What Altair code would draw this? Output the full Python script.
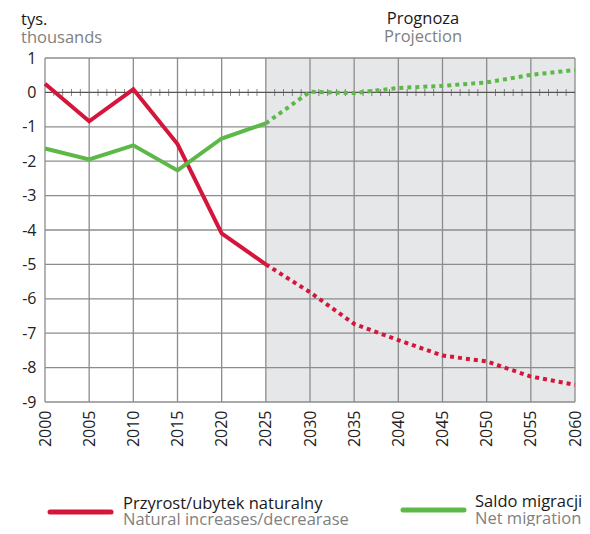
import altair as alt
import pandas as pd

years_hist = [2000, 2005, 2010, 2015, 2020, 2025]
years_proj = [2025, 2030, 2035, 2040, 2045, 2050, 2055, 2060]
natural_hist = [0.25, -0.84, 0.09, -1.5, -4.1, -5.0]
natural_proj = [-5.0, -5.81, -6.73, -7.2, -7.65, -7.82, -8.26, -8.5]
migration_hist = [-1.63, -1.95, -1.54, -2.27, -1.34, -0.9]
migration_proj = [-0.9, 0.02, -0.02, 0.13, 0.19, 0.29, 0.51, 0.65]

x_ticks = list(range(2000, 2061, 5))
y_ticks = list(range(-9, 2))
minor_years = [y for y in range(2001, 2060) if y % 5 != 0]

RED = "#d4163c"
GREEN = "#5cb947"
GRID = "#8c8c8c"
ZERO = "#555555"
FONT = "Open Sans"
FS = 16.5

xs = alt.Scale(domain=[2000, 2060], nice=False, zero=False)
ys = alt.Scale(domain=[-9, 1], nice=False)

xaxis = alt.Axis(values=x_ticks, labelExpr="'' + datum.value", labelAngle=270,
                 labelOverlap=False, grid=False, ticks=False, domain=False,
                 labelFontSize=16, labelColor="#222", labelFont=FONT,
                 labelPadding=8, title=None)
yaxis = alt.Axis(values=y_ticks, labelExpr="'' + datum.value", labelOverlap=False,
                 grid=False, ticks=False, domain=False, labelFontSize=16,
                 labelColor="#222", labelFont=FONT, labelPadding=9, title=None)

X = lambda f: alt.X(f, scale=xs, axis=xaxis)
Y = lambda f: alt.Y(f, scale=ys, axis=yaxis)

shade_df = pd.DataFrame({"x": [2025], "x2": [2060], "y": [-9], "y2": [1]})
shade = alt.Chart(shade_df).mark_rect(color="#e6e7e9").encode(
    x=X("x:Q"), x2="x2:Q", y=Y("y:Q"), y2="y2:Q")

vgrid = alt.Chart(pd.DataFrame({"x": x_ticks, "y": -9, "y2": 1})).mark_rule(
    color=GRID, strokeWidth=1.3).encode(x=X("x:Q"), y=Y("y:Q"), y2="y2:Q")
hgrid = alt.Chart(pd.DataFrame({"y": [v for v in y_ticks if v != 0], "x": 2000, "x2": 2060})).mark_rule(
    color=GRID, strokeWidth=1.3).encode(y=Y("y:Q"), x=X("x:Q"), x2="x2:Q")
zero = alt.Chart(pd.DataFrame({"y": [0], "x": 2000, "x2": 2060})).mark_rule(
    color=ZERO, strokeWidth=1.3).encode(y=Y("y:Q"), x=X("x:Q"), x2="x2:Q")
minor = alt.Chart(pd.DataFrame({"x": minor_years, "y": 0})).mark_tick(
    orient="vertical", color=ZERO, size=7, thickness=1).encode(x=X("x:Q"), y=Y("y:Q"))


def line(years, vals, color, dotted):
    df = pd.DataFrame({"x": years, "y": vals})
    kw = dict(color=color, strokeWidth=4, strokeJoin="miter")
    if dotted:
        kw.update(strokeDash=[4, 4], strokeCap="butt")
    return alt.Chart(df).mark_line(**kw).encode(x=X("x:Q"), y=Y("y:Q"))


lines = [
    line(years_hist, natural_hist, RED, False),
    line(years_proj, natural_proj, RED, True),
    line(years_hist, migration_hist, GREEN, False),
    line(years_proj, migration_proj, GREEN, True),
]

one = pd.DataFrame({"a": [0]})


def txt(t, x, y, color="#1a1a1a", align="left", size=FS):
    return alt.Chart(one).mark_text(text=t, align=align, baseline="alphabetic",
                                    font=FONT, fontSize=size, color=color).encode(
        x=alt.value(x), y=alt.value(y))


def lrule(x1, x2, y, color):
    return alt.Chart(one).mark_rule(color=color, strokeWidth=5, strokeCap="round").encode(
        x=alt.value(x1), x2=alt.value(x2), y=alt.value(y))


texts = [
    txt("tys.", -24, -33),
    txt("thousands", -24, -15, color="#808080"),
    txt("Prognoza", 378, -34, align="center"),
    txt("Projection", 378, -16, color="#808080", align="center"),
    lrule(5, 66, 454, RED),
    txt("Przyrost/ubytek naturalny", 78, 451),
    txt("Natural increases/decrearase", 78, 467, color="#808080"),
    lrule(358, 419, 452, GREEN),
    txt("Saldo migracji", 430, 449),
    txt("Net migration", 430, 466, color="#808080"),
]

chart = alt.layer(shade, vgrid, hgrid, zero, minor, *lines, *texts).properties(
    width=530, height=344,
    autosize=alt.AutoSizeParams(type="none"),
    padding={"left": 37, "top": 50, "right": 7, "bottom": 124},
).configure_view(stroke=None).configure_axis(labelOverlap=False)

chart.save("out.html", embed_options={"renderer": "svg", "actions": False})
